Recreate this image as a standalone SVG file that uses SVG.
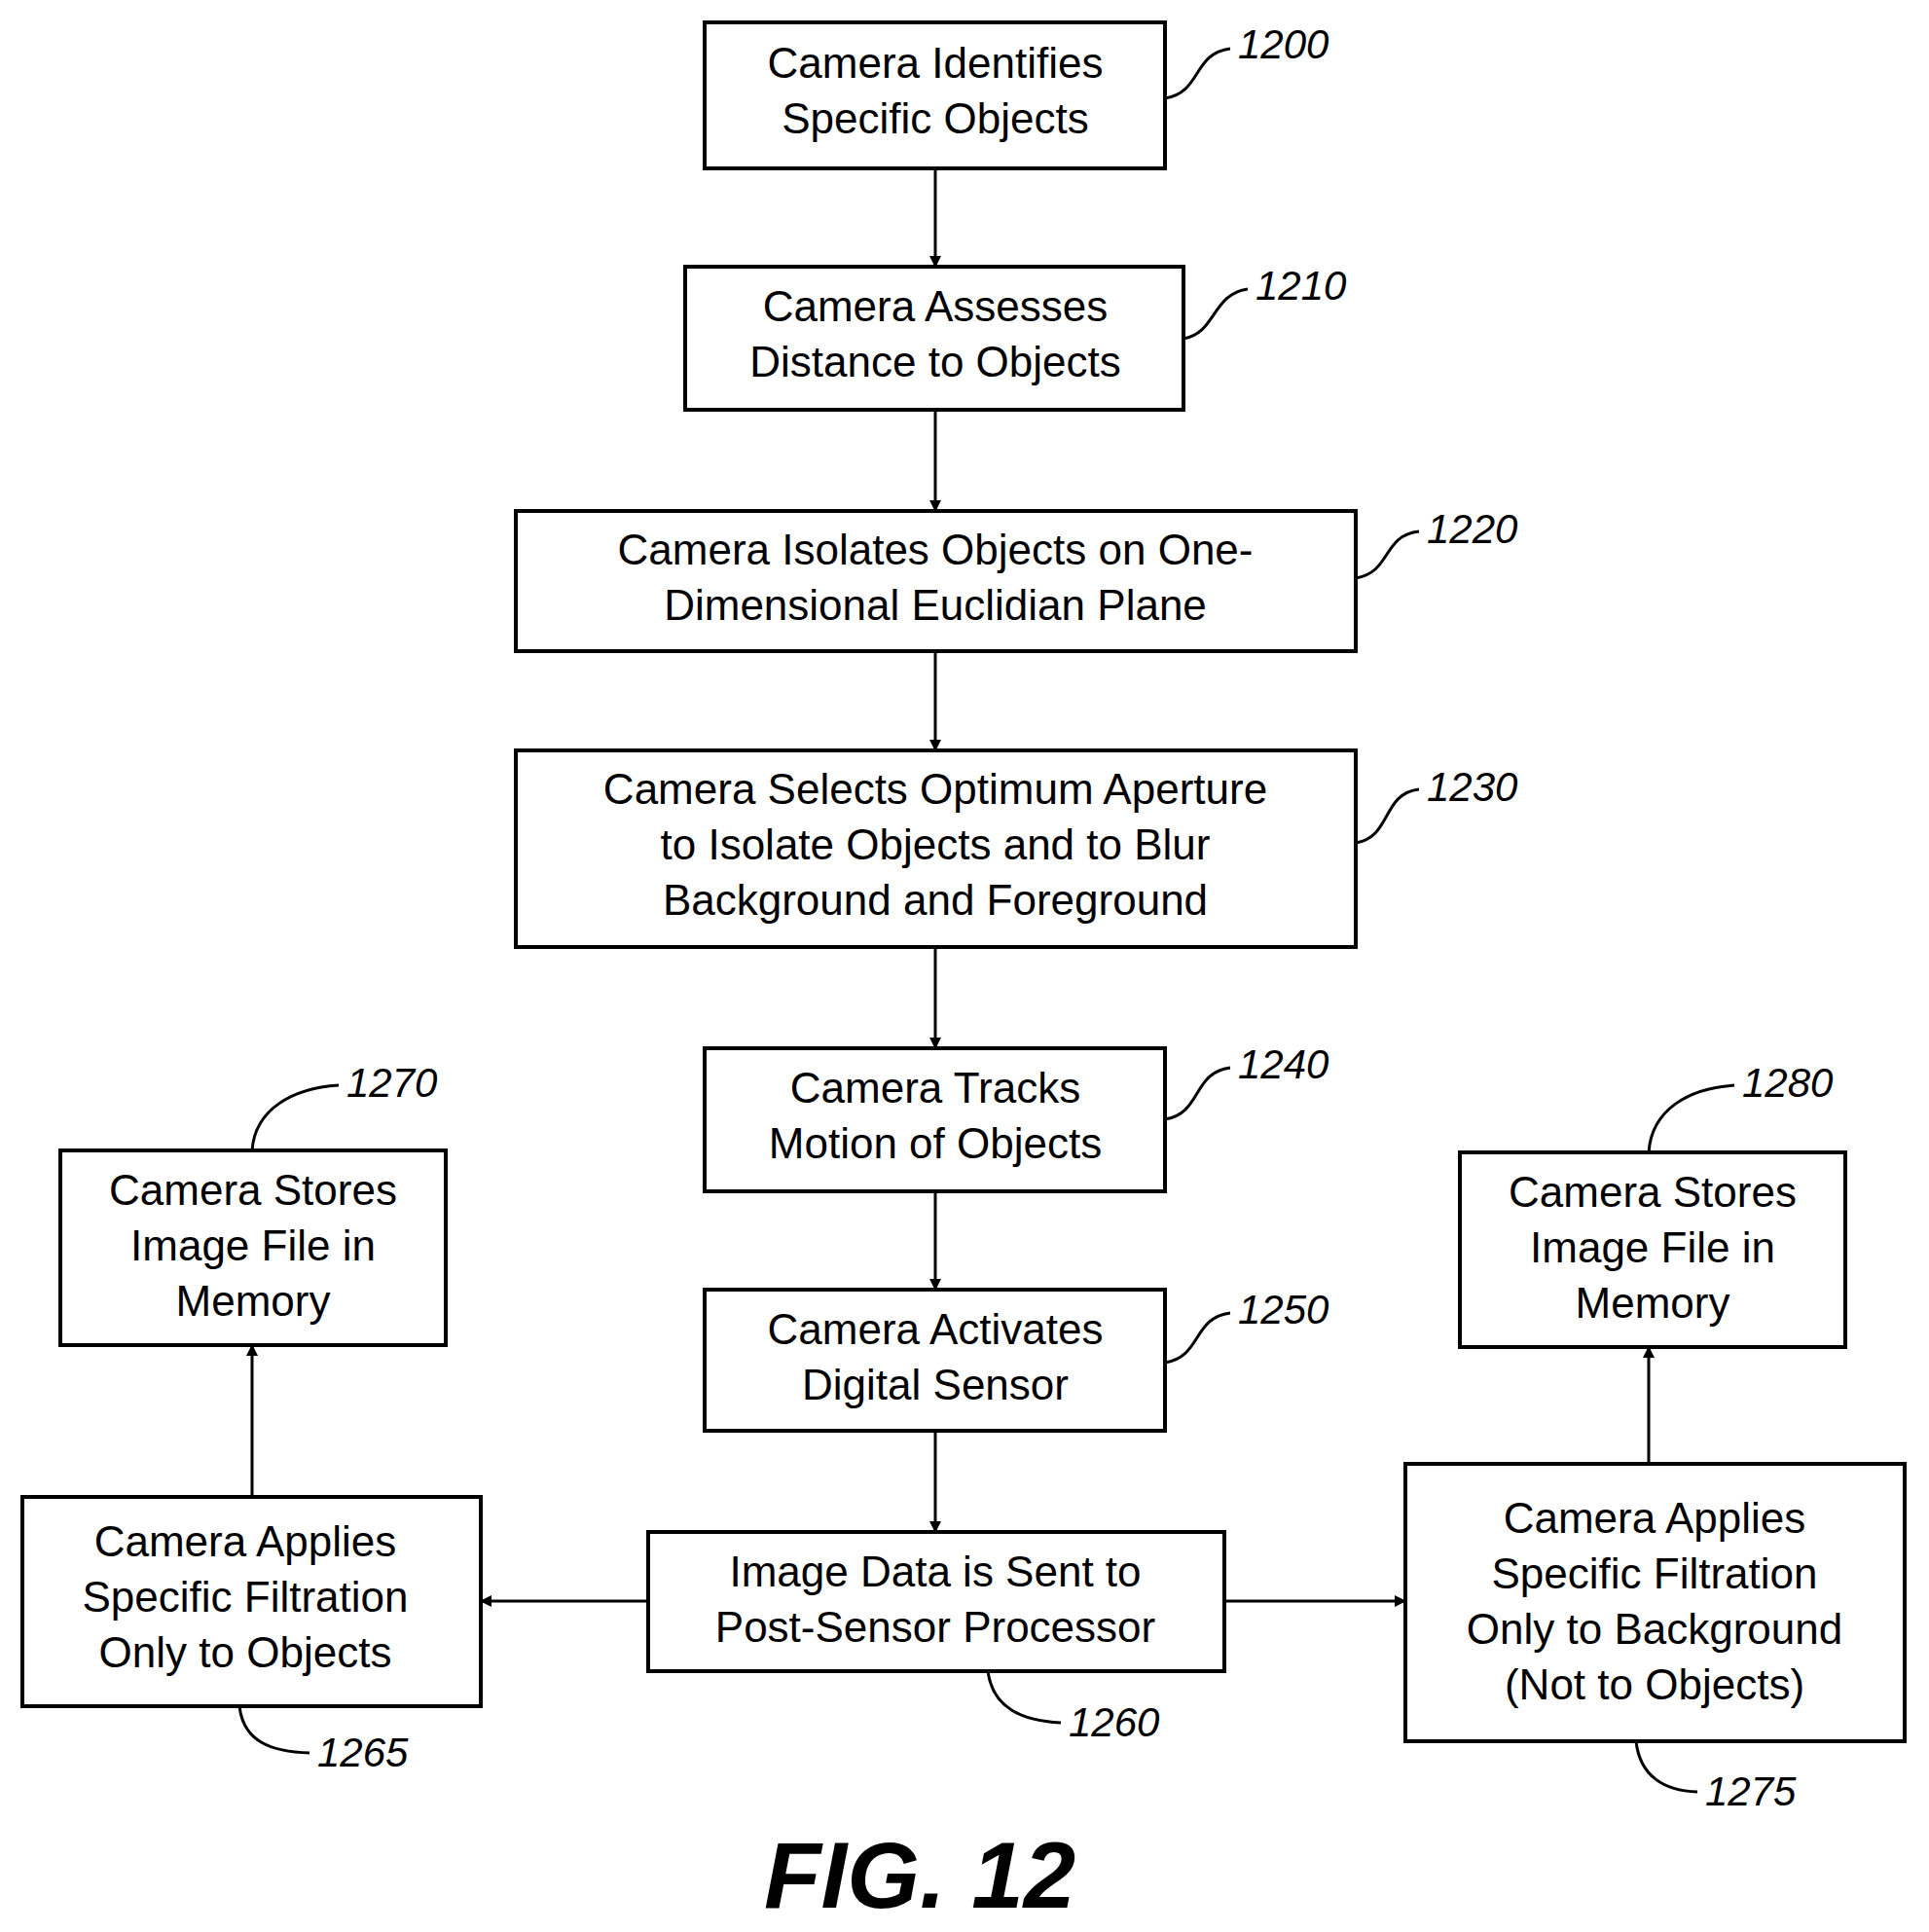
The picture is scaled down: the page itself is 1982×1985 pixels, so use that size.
<svg xmlns="http://www.w3.org/2000/svg" width="1982" height="1985" viewBox="0 0 1982 1985">
<style>
.b{fill:#fff;stroke:#000;stroke-width:4}
.t{font-family:"Liberation Sans",Arial,sans-serif;font-size:44px;text-anchor:middle;fill:#000}
.l{font-family:"Liberation Sans",Arial,sans-serif;font-size:42px;font-style:italic;fill:#000}
.c{fill:none;stroke:#000;stroke-width:3}
</style>
<defs><marker id="a" markerWidth="12" markerHeight="12" refX="11" refY="6" orient="auto" markerUnits="userSpaceOnUse"><path d="M0,0 L12,6 L0,12 Z" fill="#000"/></marker></defs>
<rect width="1982" height="1985" fill="#fff"/>
<g id="connectors">
<path class="c" marker-end="url(#a)" d="M961,173 V274"/>
<path class="c" marker-end="url(#a)" d="M961,421 V525"/>
<path class="c" marker-end="url(#a)" d="M961,669 V771"/>
<path class="c" marker-end="url(#a)" d="M961,973 V1077"/>
<path class="c" marker-end="url(#a)" d="M961,1224 V1325"/>
<path class="c" marker-end="url(#a)" d="M961,1470 V1574"/>
<path class="c" marker-end="url(#a)" d="M666,1645 H494"/>
<path class="c" marker-end="url(#a)" d="M1258,1645 H1444"/>
<path class="c" marker-end="url(#a)" d="M259,1538 V1382"/>
<path class="c" marker-end="url(#a)" d="M1694,1504 V1384"/>
</g>
<g id="n1200"><rect class="b" x="724" y="23" width="473" height="150"/><text class="t" x="961" y="80">Camera Identifies</text><text class="t" x="961" y="137">Specific Objects</text><path class="c" d="M1197,101 C1235,95 1225,55 1264,50"/><text class="l" x="1272" y="60">1200</text></g>
<g id="n1210"><rect class="b" x="704" y="274" width="512" height="147"/><text class="t" x="961" y="330">Camera Assesses</text><text class="t" x="961" y="387">Distance to Objects</text><path class="c" d="M1216,348 C1250,342 1245,302 1282,297"/><text class="l" x="1290" y="308">1210</text></g>
<g id="n1220"><rect class="b" x="530" y="525" width="863" height="144"/><text class="t" x="961" y="580">Camera Isolates Objects on One-</text><text class="t" x="961" y="637">Dimensional Euclidian Plane</text><path class="c" d="M1393,594 C1430,588 1420,550 1458,546"/><text class="l" x="1466" y="558">1220</text></g>
<g id="n1230"><rect class="b" x="530" y="771" width="863" height="202"/><text class="t" x="961" y="826">Camera Selects Optimum Aperture</text><text class="t" x="961" y="883">to Isolate Objects and to Blur</text><text class="t" x="961" y="940">Background and Foreground</text><path class="c" d="M1393,866 C1430,860 1420,815 1458,811"/><text class="l" x="1466" y="823">1230</text></g>
<g id="n1240"><rect class="b" x="724" y="1077" width="473" height="147"/><text class="t" x="961" y="1133">Camera Tracks</text><text class="t" x="961" y="1190">Motion of Objects</text><path class="c" d="M1197,1150 C1235,1144 1225,1102 1264,1097"/><text class="l" x="1272" y="1108">1240</text></g>
<g id="n1250"><rect class="b" x="724" y="1325" width="473" height="145"/><text class="t" x="961" y="1381">Camera Activates</text><text class="t" x="961" y="1438">Digital Sensor</text><path class="c" d="M1197,1400 C1235,1394 1225,1354 1264,1349"/><text class="l" x="1272" y="1360">1250</text></g>
<g id="n1260"><rect class="b" x="666" y="1574" width="592" height="143"/><text class="t" x="961" y="1630">Image Data is Sent to</text><text class="t" x="961" y="1687">Post-Sensor Processor</text><path class="c" d="M1015,1717 C1020,1755 1050,1768 1090,1770"/><text class="l" x="1098" y="1784">1260</text></g>
<g id="n1265"><rect class="b" x="23" y="1538" width="471" height="215"/><text class="t" x="252" y="1599">Camera Applies</text><text class="t" x="252" y="1656">Specific Filtration</text><text class="t" x="252" y="1713">Only to Objects</text><path class="c" d="M246,1753 C250,1790 280,1800 318,1801"/><text class="l" x="326" y="1815">1265</text></g>
<g id="n1270"><rect class="b" x="62" y="1182" width="396" height="200"/><text class="t" x="260" y="1238">Camera Stores</text><text class="t" x="260" y="1295">Image File in</text><text class="t" x="260" y="1352">Memory</text><path class="c" d="M259,1182 C262,1140 300,1118 348,1115"/><text class="l" x="356" y="1127">1270</text></g>
<g id="n1275"><rect class="b" x="1444" y="1504" width="513" height="285"/><text class="t" x="1700" y="1575">Camera Applies</text><text class="t" x="1700" y="1632">Specific Filtration</text><text class="t" x="1700" y="1689">Only to Background</text><text class="t" x="1700" y="1746">(Not to Objects)</text><path class="c" d="M1681,1789 C1685,1825 1710,1840 1744,1841"/><text class="l" x="1752" y="1855">1275</text></g>
<g id="n1280"><rect class="b" x="1500" y="1184" width="396" height="200"/><text class="t" x="1698" y="1240">Camera Stores</text><text class="t" x="1698" y="1297">Image File in</text><text class="t" x="1698" y="1354">Memory</text><path class="c" d="M1694,1184 C1697,1140 1735,1118 1782,1115"/><text class="l" x="1790" y="1127">1280</text></g>
<text x="945" y="1960" style="font-family:'Liberation Sans',Arial,sans-serif;font-size:96px;font-weight:bold;font-style:italic;text-anchor:middle">FIG. 12</text>
</svg>
